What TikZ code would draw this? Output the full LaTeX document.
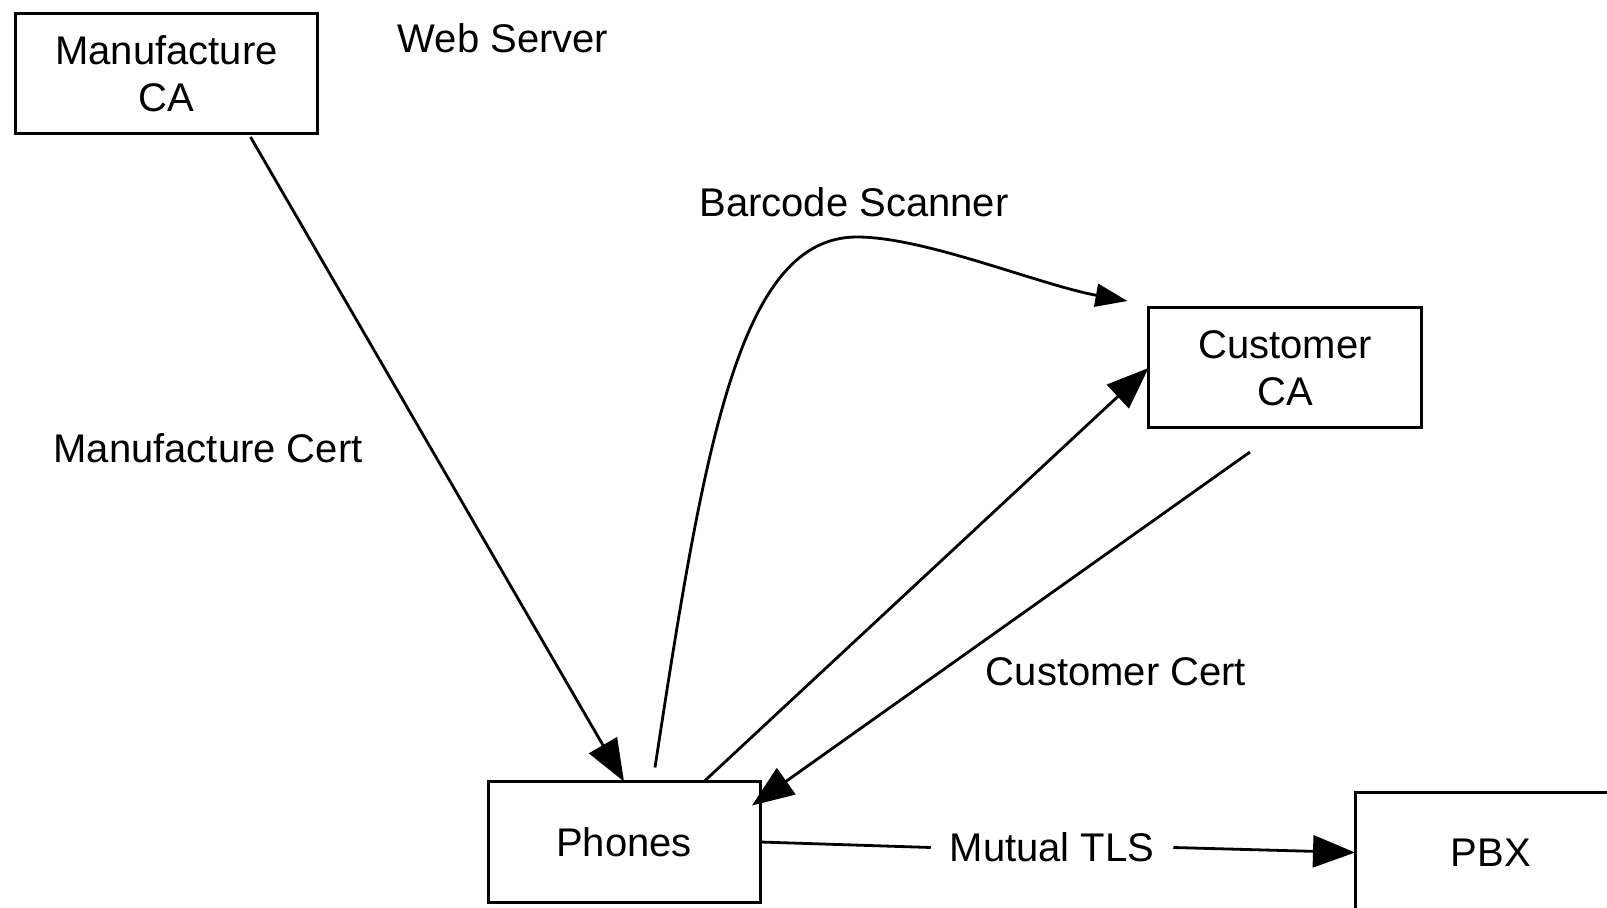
\documentclass[tikz,border=0pt]{standalone}
\usepackage{fontspec}
\setmainfont{Liberation Sans}
\usetikzlibrary{arrows.meta,calc}
\begin{document}
\begin{tikzpicture}[x=0.5pt,y=-0.5pt,
  every node/.style={font=\fontsize{20pt}{23.5pt}\selectfont},
  box/.style={draw,line width=1.5pt,align=center,inner sep=0pt,outer sep=0pt,minimum height=60pt},
  lbl/.style={inner sep=0pt,outer sep=0pt},
  conn/.style={line width=1.4pt},
  bigarrow/.style={-{Triangle[length=21pt,width=16pt]}},
  smallarrow/.style={-{Triangle[length=16pt,width=11.5pt]}}]
\useasboundingbox (0,0) rectangle (1607,908);
\fill[white] (0,0) rectangle (1607,908);
\clip (0,0) rectangle (1607,908);

\node[box,minimum width=151pt] (mca) at (166.5,74) {Manufacture\\CA};
\node[lbl] (web) at (503,38) {Web Server};
\node[lbl] (bar) at (854,202) {Barcode Scanner};
\node[box,minimum width=136.5pt] (cca) at (1285,368) {Customer\\CA};
\node[lbl] (mcert) at (208,448) {Manufacture Cert};
\node[lbl] (ccert) at (1116,672) {Customer Cert};
\node[box,minimum width=136pt,minimum height=60.5pt] (ph) at (624,842) {Phones};
\node[box,minimum width=136pt,minimum height=60.5pt] (pbx) at (1491,852.5) {PBX};
\node[lbl,inner xsep=9.5pt] (tls) at (1052,847.5) {Mutual TLS};

\draw[conn,bigarrow] ($(mca.south)+(84,3)$) -- (ph.north);
\draw[conn,smallarrow] ($(ph.north)+(31,-14)$) .. controls (705,440) and (740,237) .. (857,237)
   .. controls (925,237) and (1040,285) .. ($(cca.north west)+(-21,-7)$);
\draw[conn,bigarrow] ($(ph.north)+(80,0)$) -- (cca.west);
\draw[conn,bigarrow] ($(cca.south)+(-35,24)$) -- ($(ph.north east)+(-8,24)$);
\draw[conn] (ph.east) -- (tls.west);
\draw[conn,bigarrow] (tls.east) -- (pbx.west);
\end{tikzpicture}
\end{document}
